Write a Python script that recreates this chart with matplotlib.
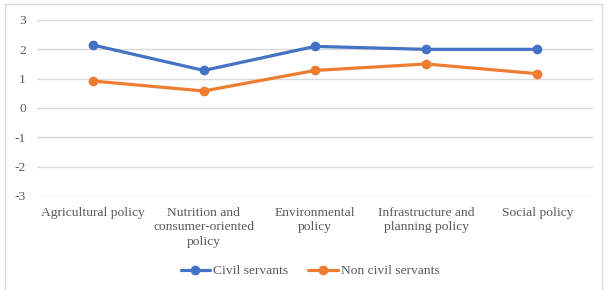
import matplotlib.pyplot as plt
from matplotlib.patches import Rectangle

categories = [
    "Agricultural policy",
    "Nutrition and\nconsumer-oriented\npolicy",
    "Environmental\npolicy",
    "Infrastructure and\nplanning policy",
    "Social policy",
]
civil = [2.15, 1.28, 2.1, 2.0, 2.0]
non_civil = [0.92, 0.58, 1.28, 1.5, 1.17]
y_ticks = [-3, -2, -1, 0, 1, 2, 3]

plt.rcParams["font.family"] = ["Liberation Serif", "DejaVu Serif"]

W, H = 604, 290
FS = 9.7
fig = plt.figure(figsize=(W / 100, H / 100), dpi=100)

# outer chart border
fig.patches.append(Rectangle((5 / W, -0.05), 597 / W, 1.05 - 4 / H,
                             transform=fig.transFigure, fill=False,
                             edgecolor="#d9d9d9", linewidth=1))

ax = fig.add_axes([37 / W, (H - 196) / H, 556 / W, 176 / H])
x = range(len(categories))
ax.plot(x, civil, color="#4472C4", linewidth=2.3, marker="o",
        markersize=6, label="Civil servants", solid_capstyle="round")
ax.plot(x, non_civil, color="#ED7D31", linewidth=2.3, marker="o",
        markersize=6, label="Non civil servants", solid_capstyle="round")

ax.set_xlim(-0.5, len(categories) - 0.5)
ax.set_ylim(-3, 3)
ax.set_yticks(y_ticks)
ax.set_yticklabels([str(v) for v in y_ticks])
ax.yaxis.grid(True, color="#d9d9d9", linewidth=1)
ax.set_axisbelow(True)
for s in ax.spines.values():
    s.set_visible(False)
ax.tick_params(axis="both", length=0, labelsize=FS, colors="#595959")
ax.tick_params(axis="y", pad=8)
ax.tick_params(axis="x", pad=8)
ax.set_xticks(list(x))
ax.set_xticklabels(categories, linespacing=1.25, va="top")

ax.legend(loc="center", bbox_to_anchor=(310 / W, 19 / H),
          bbox_transform=fig.transFigure,
          ncol=2, frameon=False, fontsize=FS, handlelength=2.2,
          columnspacing=1.5, handletextpad=0.2,
          labelcolor="#595959")

fig.savefig("out.png", dpi=100)
